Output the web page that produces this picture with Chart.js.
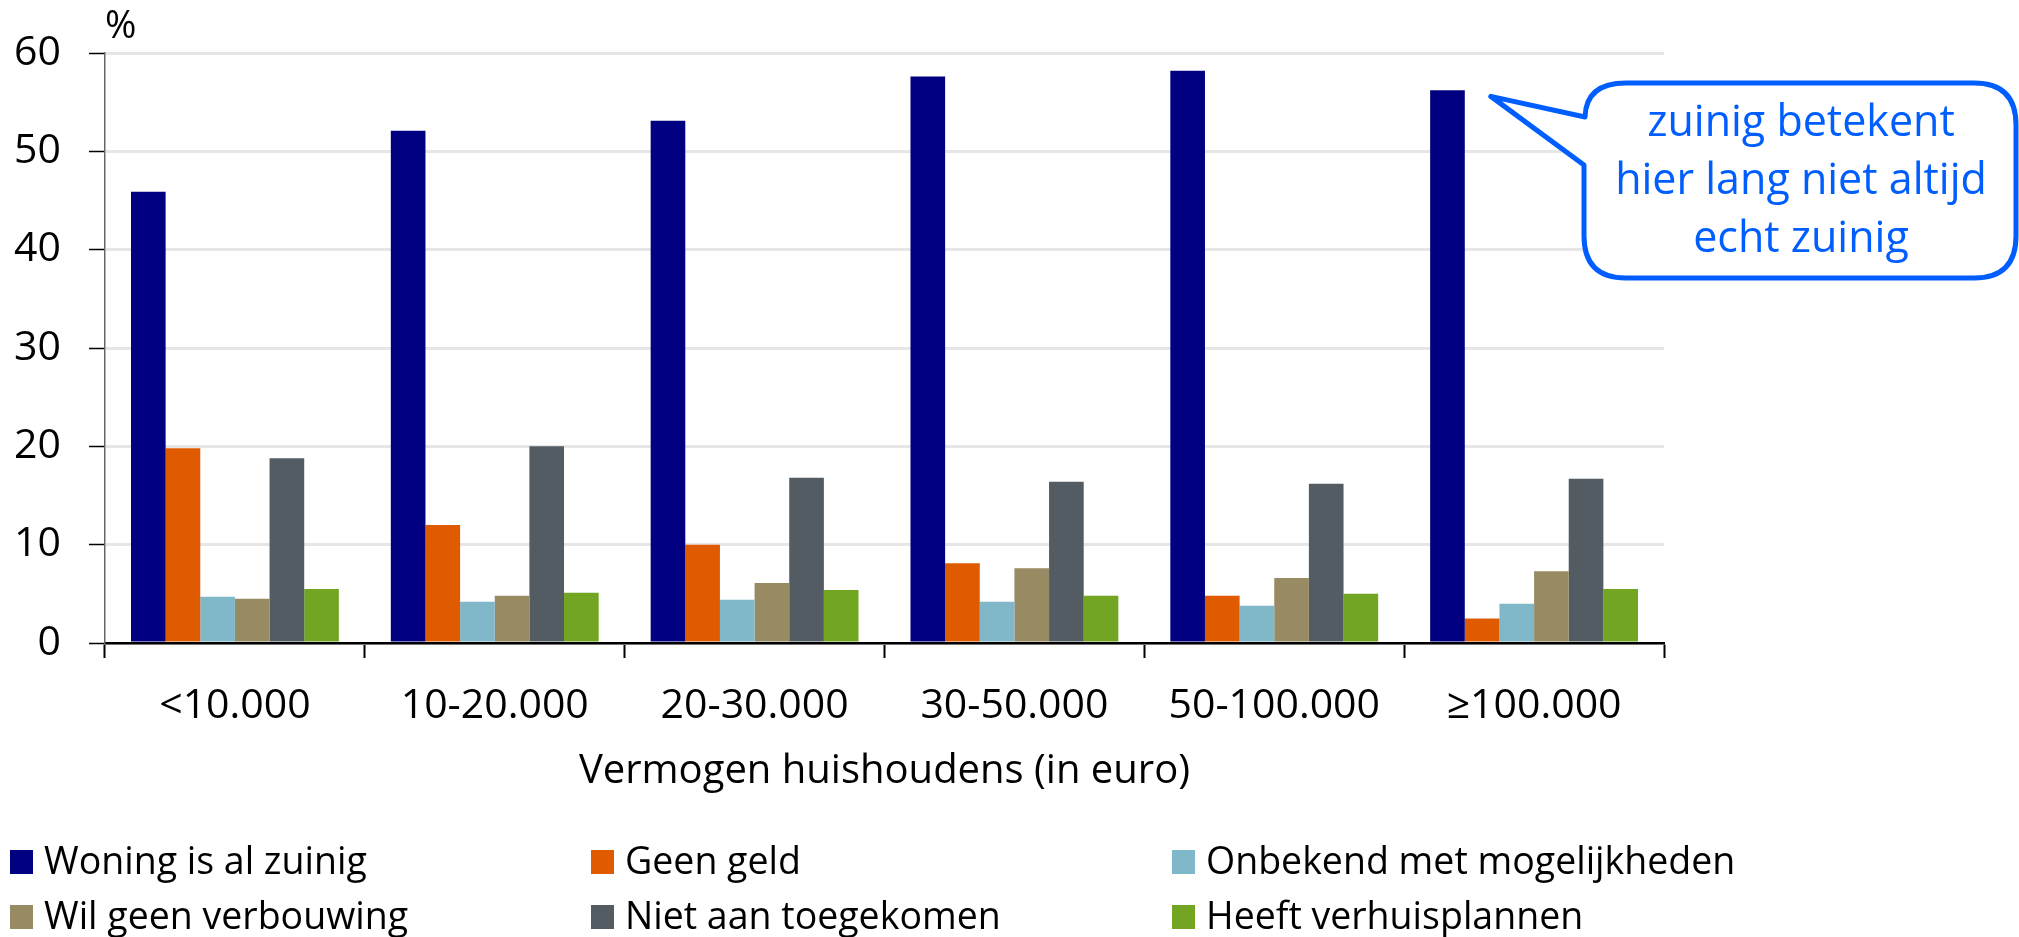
<!DOCTYPE html>
<html>
<head>
<meta charset="utf-8">
<script src="https://cdn.jsdelivr.net/npm/chart.js@4.4.1/dist/chart.umd.min.js"></script>
<style>
  html, body { margin: 0; padding: 0; background: #fff; }
  #wrap { width: 2019px; height: 937px; position: relative; }
</style>
</head>
<body>
<div id="wrap"><canvas id="chart" width="2019" height="937"></canvas></div>
<script>
  // categorieën: vermogen huishoudens
  const categories = ['<10.000', '10-20.000', '20-30.000', '30-50.000', '50-100.000', '≥100.000'];
  const seriesNames = [
    'Woning is al zuinig',
    'Geen geld',
    'Onbekend met mogelijkheden',
    'Wil geen verbouwing',
    'Niet aan toegekomen',
    'Heeft verhuisplannen',
  ];
  const seriesColors = ['#000080', '#e05a00', '#80b8ca', '#988a62', '#525c62', '#72a522'];

  // waarden in %
  const woningZuinig = [45.9, 52.1, 53.1, 57.6, 58.2, 56.2];
  const geenGeld = [19.8, 12.0, 10.0, 8.1, 4.8, 2.5];
  const onbekend = [4.7, 4.2, 4.4, 4.2, 3.8, 4.0];
  const geenVerbouwing = [4.5, 4.8, 6.1, 7.6, 6.6, 7.3];
  const nietToegekomen = [18.8, 20.0, 16.8, 16.4, 16.2, 16.7];
  const verhuisplannen = [5.5, 5.1, 5.4, 4.8, 5.0, 5.5];

  const yMin = 0;
  const yMax = 60;
  const yStep = 10;

  const axisTitle = 'Vermogen huishoudens (in euro)';
  const unitLabel = '%';
  const calloutLines = ['zuinig betekent', 'hier lang niet altijd', 'echt zuinig'];

  const FONT = "'Open Sans', 'Noto Sans', sans-serif";
  const seriesValues = [woningZuinig, geenGeld, onbekend, geenVerbouwing, nietToegekomen, verhuisplannen];

  const extras = {
    id: 'extras',
    afterDraw(chart) {
      const ctx = chart.ctx;
      const area = chart.chartArea;
      ctx.save();

      // eenheid boven y-as
      ctx.fillStyle = '#000';
      ctx.font = '38px ' + FONT;
      ctx.textAlign = 'left';
      ctx.textBaseline = 'middle';
      ctx.fillText(unitLabel, area.left, 27);

      // titel x-as
      ctx.textAlign = 'center';
      ctx.font = '40px ' + FONT;
      ctx.fillText(axisTitle, (area.left + area.right) / 2, 772);

      // legenda, 3 kolommen
      const colX = [10, 591, 1172];
      const rowY = [862, 917];
      ctx.font = '37.5px ' + FONT;
      ctx.textAlign = 'left';
      chart.data.datasets.forEach((ds, i) => {
        const x = colX[i % 3];
        const y = rowY[Math.floor(i / 3)];
        ctx.fillStyle = ds.backgroundColor;
        ctx.fillRect(x, y - 12, 23, 24);
        ctx.fillStyle = '#000';
        ctx.fillText(ds.label, x + 34, y + 1);
      });

      // ballon bij laatste blauwe staaf
      const bar = chart.getDatasetMeta(0).data[categories.length - 1];
      const tipX = bar.x + bar.width / 2 + 26;
      const tipY = bar.y + 6;
      const bx = 1584, by = 83, bw = 432, bh = 195, r = 42;
      ctx.beginPath();
      ctx.moveTo(bx, 165);
      ctx.lineTo(tipX, tipY);
      ctx.lineTo(bx + 1, 117);
      ctx.quadraticCurveTo(bx + 2, by, bx + r, by);
      ctx.lineTo(bx + bw - r, by);
      ctx.quadraticCurveTo(bx + bw, by, bx + bw, by + r);
      ctx.lineTo(bx + bw, by + bh - r);
      ctx.quadraticCurveTo(bx + bw, by + bh, bx + bw - r, by + bh);
      ctx.lineTo(bx + r, by + bh);
      ctx.quadraticCurveTo(bx, by + bh, bx, by + bh - r);
      ctx.closePath();
      ctx.fillStyle = '#fff';
      ctx.fill();
      ctx.lineWidth = 5;
      ctx.lineJoin = 'round';
      ctx.strokeStyle = '#005eff';
      ctx.stroke();

      ctx.fillStyle = '#005eff';
      ctx.font = '43px ' + FONT;
      ctx.textAlign = 'center';
      calloutLines.forEach((t, i) => {
        ctx.fillText(t, bx + bw / 2 + 1, 124 + i * 58);
      });
      ctx.restore();
    },
  };

  new Chart(document.getElementById('chart'), {
    type: 'bar',
    data: {
      labels: categories,
      datasets: seriesNames.map((name, i) => ({
        label: name,
        data: seriesValues[i],
        backgroundColor: seriesColors[i],
        borderWidth: 0,
        categoryPercentage: 0.8,
        barPercentage: 1.0,
      })),
    },
    options: {
      responsive: false,
      animation: false,
      layout: { padding: { left: 0, right: 355, top: 53, bottom: 0 } },
      plugins: { legend: { display: false }, tooltip: { enabled: false } },
      scales: {
        x: {
          grid: { drawOnChartArea: false, offset: true, tickLength: 15, tickColor: '#000', tickWidth: 2 },
          border: { color: '#000', width: 2.5 },
          ticks: { font: { family: FONT, size: 41 }, color: '#000', padding: 24, maxRotation: 0, autoSkip: false },
          afterFit(s) { s.height = 294; },
        },
        y: {
          min: yMin,
          max: yMax,
          ticks: { stepSize: yStep, font: { family: FONT, size: 41 }, color: '#000', padding: 28 },
          grid: { color: '#e6e6e6', lineWidth: 3, tickColor: '#000', tickWidth: 1.5, tickLength: 16 },
          border: { color: '#666', width: 1.5 },
          afterFit(s) { s.width = 105; },
        },
      },
    },
    plugins: [extras],
  });
</script>
</body>
</html>
